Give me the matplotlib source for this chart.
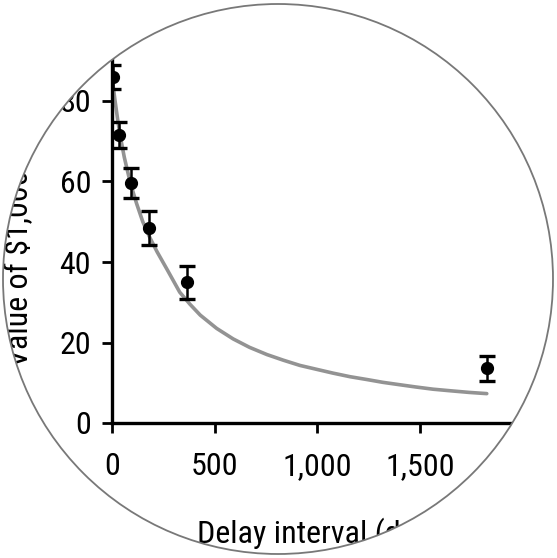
import matplotlib
matplotlib.use("Agg")
import matplotlib.pyplot as plt
from matplotlib.patches import Circle, PathPatch
from matplotlib.path import Path
from matplotlib.ticker import FuncFormatter

plt.rcParams["font.family"] = ["Roboto Condensed", "Liberation Sans Narrow", "Liberation Sans", "DejaVu Sans"]

# observed indifference points
delay_days = [7, 34, 93, 180, 365, 1825]
value = [86.0, 71.6, 59.6, 48.4, 35.0, 13.6]
value_err = [3.0, 3.2, 3.8, 4.2, 4.1, 3.1]

# fitted curve
curve_days = [0, 15, 30, 45, 60, 90, 120, 150, 185, 220, 270, 330, 380, 430,
              510, 590, 670, 755, 835, 916, 1000, 1076, 1160, 1242, 1320,
              1403, 1480, 1564, 1650, 1740, 1826]
curve_value = [86.0, 80.0, 74.5, 70.0, 66.0, 59.5, 54.5, 50.0, 46.0, 42.5,
               38.0, 32.5, 29.5, 26.8, 23.5, 20.9, 18.8, 17.0, 15.6, 14.3,
               13.3, 12.4, 11.5, 10.8, 10.1, 9.5, 8.95, 8.4, 8.0, 7.6, 7.3]

x_ticks = [0, 500, 1000, 1500]
y_ticks = [0, 20, 40, 60, 80]

fig = plt.figure(figsize=(5.57, 5.58), dpi=100)
fig.patch.set_facecolor("white")
ax = fig.add_axes([112 / 557, 135 / 558, 431 / 557, 402.5 / 558])

ax.plot(curve_days, curve_value, color="#939393", lw=2.6, solid_capstyle="round", zorder=2)
ax.errorbar(delay_days, value, yerr=value_err, fmt="o", color="black", ms=8.5,
            elinewidth=1.8, capsize=5.5, capthick=2.4, zorder=3)

ax.set_xlim(0, 2100)
ax.set_ylim(0, 100)
ax.set_xticks(x_ticks)
ax.set_yticks(y_ticks)
ax.xaxis.set_major_formatter(FuncFormatter(lambda v, p: f"{int(v):,}"))
for side in ["top", "right"]:
    ax.spines[side].set_visible(False)
for side in ["left", "bottom"]:
    ax.spines[side].set_linewidth(2.4)
ax.tick_params(direction="out", length=7, width=2, labelsize=23, colors="black")
ax.tick_params(axis="x", pad=14)
ax.tick_params(axis="y", pad=8)

ax.set_xlabel("Delay interval (days)", fontsize=23, ha="left")
ax.xaxis.set_label_coords(0.197, -0.235)
fig.text(34 / 557, (558 - 367) / 558, "Value of \\$1,000", rotation=90,
         ha="right", va="bottom", fontsize=23)

# white mask outside the round crop
cx, cy, r = 2.78, 5.58 - 2.79, 2.75
outer = Path([(-1, -1), (-1, 7), (7, 7), (7, -1), (-1, -1)],
             [Path.MOVETO, Path.LINETO, Path.LINETO, Path.LINETO, Path.CLOSEPOLY])
circ = Path.circle((cx, cy), r)
mask = PathPatch(Path.make_compound_path(outer, circ), facecolor="white",
                 edgecolor="none", transform=fig.dpi_scale_trans, zorder=10)
fig.add_artist(mask)
fig.add_artist(Circle((cx, cy), r, facecolor="none", edgecolor="#787878", lw=1.3,
                      transform=fig.dpi_scale_trans, zorder=11))

fig.savefig("out.png", dpi=100, facecolor="white")
